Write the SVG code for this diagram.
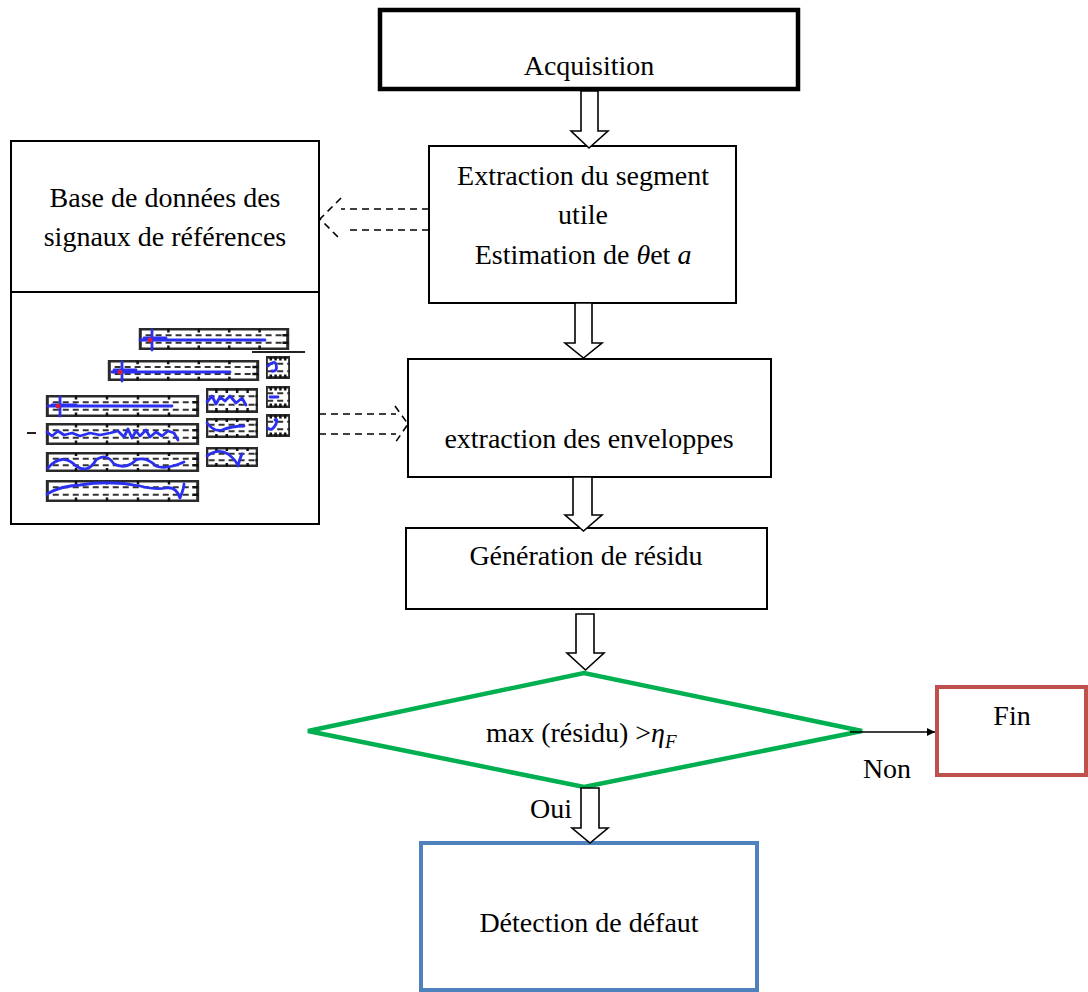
<svg xmlns="http://www.w3.org/2000/svg" width="1088" height="992" viewBox="0 0 1088 992">
<style>
.t{font-family:"Liberation Serif","Times New Roman",serif;font-size:28px;fill:#000}
.box{fill:#fff;stroke:#000;stroke-width:2}
.barrow{fill:#fff;stroke:#000;stroke-width:1.6;stroke-linejoin:miter}
.dash{fill:none;stroke:#000;stroke-width:1.6;stroke-dasharray:7 5}
.blue{fill:none;stroke:#2a2ff0;stroke-width:2.8;stroke-linejoin:round;stroke-linecap:round}
</style>
<defs>
<marker id="ah" viewBox="0 0 10 10" refX="10" refY="5" markerWidth="8" markerHeight="8" markerUnits="userSpaceOnUse" orient="auto">
<path d="M0,0 L10,5 L0,10 z" fill="#000"/>
</marker>
<symbol id="frame" viewBox="0 0 100 30" preserveAspectRatio="none">
<rect x="1.5" y="1.5" width="97" height="27" fill="#fff" stroke="#2a2a2a" stroke-width="3" vector-effect="non-scaling-stroke"/>
<path d="M5,10 H95 M5,20 H95" stroke="#333" stroke-width="2" stroke-dasharray="6 4" vector-effect="non-scaling-stroke" fill="none"/>
<path d="M20,1 V6 M40,1 V6 M60,1 V6 M80,1 V6 M20,24 V29 M40,24 V29 M60,24 V29 M80,24 V29 M95,10 H99 M95,20 H99" stroke="#111" stroke-width="2.5" vector-effect="non-scaling-stroke"/>
</symbol>
</defs>

<g id="acquisition">
<rect x="380" y="10" width="418" height="79" fill="#fff" stroke="#000" stroke-width="4.5"/>
<text class="t" x="589" y="75" text-anchor="middle">Acquisition</text>
</g>

<g id="extraction">
<rect class="box" x="429" y="146" width="307" height="157"/>
<text class="t" x="583" y="185" text-anchor="middle">Extraction du segment</text>
<text class="t" x="583" y="224" text-anchor="middle">utile</text>
<text class="t" x="583" y="264" text-anchor="middle">Estimation de <tspan font-style="italic">θ</tspan>et <tspan font-style="italic">a</tspan></text>
</g>

<g id="database">
<rect class="box" x="11" y="141" width="308" height="151"/>
<text class="t" x="165" y="207" text-anchor="middle">Base de données des</text>
<text class="t" x="165" y="246" text-anchor="middle">signaux de références</text>
</g>

<g id="database-signals">
<rect class="box" x="11" y="292" width="308" height="232"/>
<use href="#frame" x="138" y="328" width="152" height="22"/>
<path class="blue" d="M140,340 H265"/>
<path class="blue" d="M152,330 V350 M144,338 H166"/>
<circle cx="150" cy="340" r="2.5" fill="#d0203a"/>
<path d="M252,352 H305" stroke="#222" stroke-width="2"/>
<use href="#frame" x="107" y="360" width="153" height="21"/>
<path class="blue" d="M112,372 H230"/>
<path class="blue" d="M122,362 V381 M114,370 H136"/>
<circle cx="120" cy="372" r="2.5" fill="#d0203a"/>
<use href="#frame" x="266" y="356" width="24" height="23"/>
<path class="blue" d="M268,366 Q274,360 276,364 Q278,372 272,371"/>
<use href="#frame" x="266" y="386" width="24" height="22"/>
<path class="blue" d="M270,397 H278"/>
<use href="#frame" x="266" y="414" width="24" height="23"/>
<path class="blue" d="M268,428 Q272,432 276,424 Q278,418 275,420"/>
<use href="#frame" x="206" y="388" width="52" height="25"/>
<path class="blue" d="M207,402 L212,396 L216,404 L220,397 L225,401 L230,396 L236,403 L242,398 L246,405"/>
<use href="#frame" x="206" y="418" width="52" height="20"/>
<path class="blue" d="M207,423 Q214,432 222,430 Q232,426 244,426"/>
<use href="#frame" x="206" y="447" width="52" height="20"/>
<path class="blue" d="M207,456 Q218,448 228,454 Q236,460 238,466 Q240,458 242,454"/>
<use href="#frame" x="45" y="395" width="155" height="22"/>
<path class="blue" d="M48,406 H172"/>
<path class="blue" d="M60,397 V416 M52,405 H76"/>
<circle cx="58" cy="406" r="2.5" fill="#d0203a"/>
<use href="#frame" x="45" y="423" width="155" height="22"/>
<path class="blue" d="M47,432 L52,436 L58,431 L64,435 L72,433 L80,436 L90,433 L100,435 L110,433 L118,431 L124,437 L128,429 L132,438 L136,431 L140,436 L146,430 L150,437 L156,432 L162,436 L168,431 L174,433 L178,440"/>
<path d="M27,433 H36" stroke="#222" stroke-width="2"/>
<use href="#frame" x="45" y="452" width="155" height="20"/>
<path class="blue" d="M48,468 Q62,452 76,466 Q88,474 96,460 Q106,452 114,464 Q126,470 136,460 Q146,456 156,466 Q166,470 184,462"/>
<use href="#frame" x="45" y="480" width="155" height="22"/>
<path class="blue" d="M47,494 Q60,486 80,485 Q110,480 140,486 Q156,490 166,488 Q176,486 180,498 Q184,488 184,484"/>
</g>

<g id="enveloppes">
<rect class="box" x="408" y="359" width="363" height="118"/>
<text class="t" x="589" y="448" text-anchor="middle">extraction des enveloppes</text>
</g>

<g id="residu">
<rect class="box" x="406" y="528" width="361" height="81"/>
<text class="t" x="586" y="565" text-anchor="middle">Génération de résidu</text>
</g>

<g id="decision">
<polygon points="308,731 584,673 862,731 584,787" fill="#fff" stroke="#00B050" stroke-width="4.5"/>
<text class="t" x="486" y="742">max (résidu) &gt;<tspan font-style="italic">η</tspan><tspan font-style="italic" font-size="19" dy="6">F</tspan></text>
</g>

<g id="fin">
<rect x="937" y="687" width="149" height="88" fill="#fff" stroke="#C0504D" stroke-width="4"/>
<text class="t" x="1012" y="725" text-anchor="middle">Fin</text>
</g>

<g id="detection">
<rect x="421" y="843" width="336" height="147" fill="#fff" stroke="#4F81BD" stroke-width="4"/>
<text class="t" x="589" y="932" text-anchor="middle">Détection de défaut</text>
</g>

<g id="connectors">
<polygon class="barrow" points="581,91 598,91 598,131 608,131 589,148 571,131 581,131"/>
<polygon class="barrow" points="575,303 592,303 592,343 602,343 583.5,358 565,343 575,343"/>
<polygon class="barrow" points="573,477 592,477 592,515 602,515 583.5,531 565,515 573,515"/>
<polygon class="barrow" points="576,614 594,614 594,653 604,653 585.5,670 567,653 576,653"/>
<polygon class="barrow" points="581,788 599,788 599,828 608,828 590,843 572,828 581,828"/>
<path class="dash" d="M429,209 H341 M429,230 H345 M341,198 L320,219 L341,240"/>
<path class="dash" d="M319,414 H396 M319,434 H396 M395,406 L408,424 L395,443"/>
<path d="M850,732 H935" stroke="#000" stroke-width="1.6" fill="none" marker-end="url(#ah)"/>
<text class="t" x="887" y="778" text-anchor="middle">Non</text>
<text class="t" x="551" y="818" text-anchor="middle">Oui</text>
</g>
</svg>
